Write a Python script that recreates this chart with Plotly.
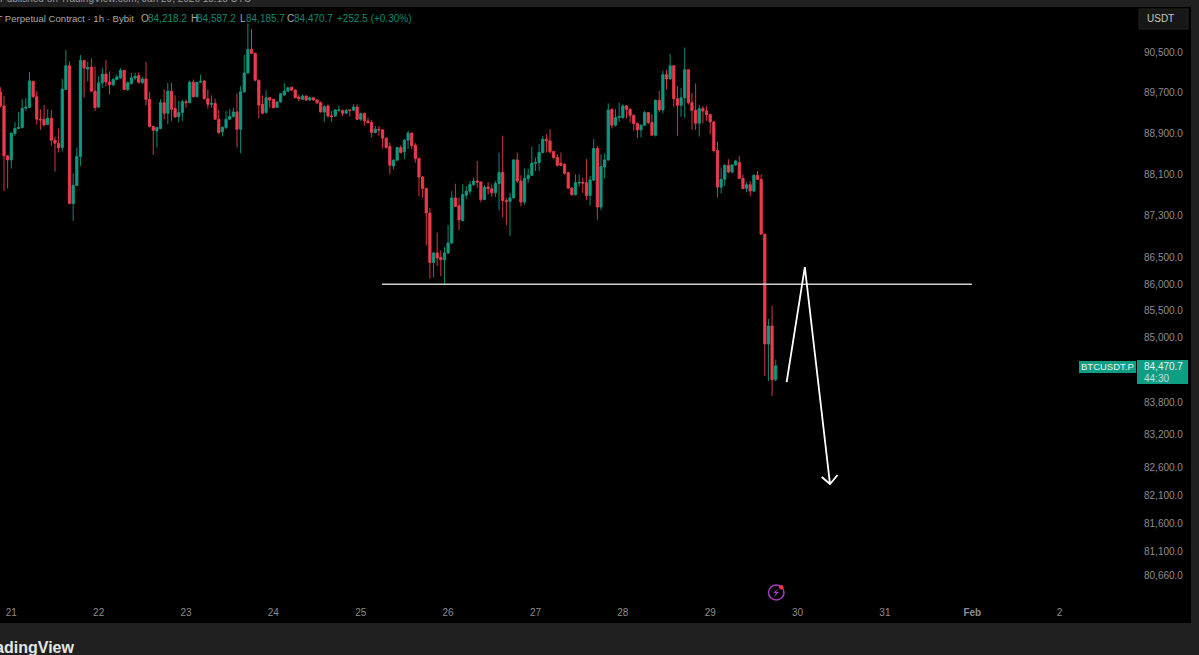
import pandas as pd
import plotly.graph_objects as go

# BTCUSDT.P 1h candles, first bar is Jan 20 21:00
first_bar = "2026-01-20 21:00"

opens = [
    89707, 89434, 88459, 88381, 88894, 88992, 89012, 89388, 89408, 89921,
    89616, 89174, 89174, 89076, 89193, 88764, 88706, 88621, 89759, 90227,
    87536, 87887, 88446, 90331, 90162, 90201, 89726, 89414, 89889, 90064,
    89908, 89850, 89954, 89986, 90136, 89759, 89876, 89986, 90032, 89889,
    89967, 89564, 89031, 88946, 88992, 89499, 89291, 89726, 89382, 89226,
    89304, 89518, 89499, 89902, 89616, 89902, 89928, 89577, 89466, 89486,
    89174, 88927, 89011, 89174, 89226, 89317, 88979, 89713, 90084, 90552,
    90474, 89941, 89466, 89304, 89596, 89564, 89408, 89512, 89655, 89726,
    89804, 89746, 89609, 89564, 89629, 89551, 89596, 89551, 89499, 89317,
    89434, 89239, 89239, 89349, 89349, 89291, 89356, 89349, 89414, 89174,
    89284, 89141, 89109, 88914, 88979, 88966, 88803, 88640, 88264, 88374,
    88621, 88537, 88764, 88901, 88667, 88407, 88049, 87828, 87354, 86411,
    86593, 86509, 86463, 86593, 86782, 87646, 87497, 87211, 87698, 87776,
    87906, 87971, 87952, 87614, 87854, 87822, 87744, 87926, 88134, 87594,
    87581, 87646, 88381, 87971, 87568, 88017, 88082, 88316, 88329, 88524,
    88784, 88751, 88543, 88426, 88316, 88290, 88134, 87835, 87705, 87933,
    87946, 87939, 87692, 87991, 88602, 87471, 88245, 88381, 89369, 89057,
    89206, 89206, 89434, 89369, 89252, 89089, 88966, 89057, 89304, 89109,
    88862, 89544, 89356, 90051, 89967, 90227, 89577, 89447, 89596, 90149,
    89499, 89349, 89096, 89382, 89336, 89265, 89122, 88563, 87854, 88004,
    88277, 88147, 88283, 88329, 88023, 87828, 87900, 87777, 88082, 88004,
    86951, 84877, 85213, 84218.2,
]
highs = [
    89805, 89629, 88472, 88914, 89122, 89317, 89564, 89596, 90103, 89928,
    89726, 89369, 89453, 89369, 89356, 88836, 88992, 89967, 90539, 90311,
    88121, 88621, 90441, 90344, 90311, 90376, 90214, 90019, 90181, 90344,
    90116, 89986, 90051, 90181, 90149, 89921, 90084, 90084, 90097, 90006,
    90298, 89707, 89031, 89031, 89564, 89759, 89889, 89889, 89642, 89531,
    89551, 89564, 89934, 89954, 89902, 90051, 89941, 89759, 89642, 89577,
    89356, 89031, 89336, 89369, 89401, 89681, 89824, 90441, 91072, 90961,
    90487, 89954, 89642, 89746, 89609, 89577, 89518, 89681, 89889, 89811,
    89811, 89759, 89661, 89661, 89642, 89616, 89616, 89564, 89525, 89447,
    89466, 89336, 89369, 89434, 89362, 89382, 89369, 89466, 89466, 89304,
    89304, 89206, 89161, 89044, 89044, 88979, 88816, 88719, 88394, 88621,
    88667, 88784, 88946, 88914, 88706, 88426, 88069, 87841, 87451, 86606,
    86983, 86639, 86704, 87126, 87776, 87919, 87646, 87907, 87874, 87971,
    88036, 88361, 87965, 87887, 87952, 87906, 87971, 88524, 88849, 87646,
    87744, 88394, 88524, 88082, 88212, 88212, 88641, 88426, 88686, 88849,
    88881, 88979, 88556, 88491, 88524, 88316, 88147, 87848, 88101, 88101,
    88036, 88394, 88069, 88784, 88654, 88491, 88505, 89486, 89382, 89369,
    89499, 89466, 89453, 89388, 89265, 89109, 89070, 89336, 89317, 89271,
    89564, 89726, 90136, 90149, 90461, 90240, 89824, 89791, 90591, 90162,
    89694, 89876, 89453, 89434, 89434, 89278, 89135, 88732, 88231, 88290,
    88394, 88296, 88381, 88459, 88101, 87952, 87971, 88101, 88166, 88100,
    86960, 85344, 85589, 84587.2,
]
lows = [
    89402, 87777, 87829, 88212, 88849, 88979, 88992, 89336, 89395, 89596,
    89070, 88966, 89031, 89057, 88654, 88153, 88524, 88543, 89746, 87530,
    87204, 87874, 88264, 89596, 89921, 89707, 89336, 89402, 89791, 89824,
    89661, 89824, 89941, 89967, 89746, 89726, 89856, 89941, 89876, 89876,
    89447, 89011, 88478, 88621, 88979, 89174, 89076, 89141, 89206, 89109,
    89141, 89401, 89486, 89603, 89603, 89889, 89564, 89382, 89401, 89161,
    88881, 88836, 88979, 89154, 89206, 88621, 88511, 89694, 90071, 90467,
    89921, 89187, 89271, 89284, 89401, 89388, 89395, 89499, 89629, 89707,
    89726, 89583, 89525, 89551, 89538, 89538, 89538, 89466, 89304, 89122,
    89206, 89122, 89219, 89317, 89239, 89278, 89226, 89336, 89161, 89141,
    89044, 89089, 88816, 88894, 88849, 88602, 88602, 88101, 88199, 88361,
    88504, 88394, 88589, 88589, 88329, 87679, 87646, 86736, 86106, 86132,
    86346, 86151, 85989, 86574, 86769, 87471, 87029, 87191, 87627, 87711,
    87874, 87841, 87562, 87601, 87711, 87666, 87666, 87406, 87269, 87126,
    86912, 87633, 87939, 87484, 87516, 87939, 88069, 88166, 88166, 88511,
    88524, 88511, 88394, 88251, 88264, 88095, 87822, 87692, 87692, 87861,
    87744, 87601, 87497, 87971, 87224, 87406, 88017, 88361, 88992, 89031,
    89122, 89174, 89187, 89109, 88946, 88803, 88816, 89044, 89076, 88849,
    88836, 89317, 89291, 89759, 89954, 89414, 88849, 89219, 89206, 89466,
    88966, 88966, 88836, 89096, 89141, 88881, 88524, 87659, 87731, 87874,
    88121, 88121, 88264, 88004, 87809, 87757, 87679, 87757, 87991, 86951,
    84282, 84189, 83913, 84185.7,
]
closes = [
    89434, 88459, 88381, 88901, 88992, 89012, 89388, 89408, 89928, 89616,
    89174, 89161, 89063, 89193, 88764, 88706, 88615, 89765, 90227, 87536,
    87887, 88446, 90331, 90181, 90194, 89726, 89402, 89889, 90064, 89908,
    89850, 89954, 90006, 90136, 89759, 89889, 89986, 90019, 89902, 89967,
    89564, 89031, 88959, 89011, 89499, 89291, 89726, 89369, 89219, 89304,
    89518, 89499, 89902, 89616, 89902, 89921, 89577, 89466, 89486, 89174,
    88914, 89018, 89174, 89226, 89317, 88979, 89713, 90084, 90552, 90474,
    89941, 89453, 89291, 89596, 89551, 89401, 89512, 89674, 89726, 89791,
    89746, 89596, 89577, 89629, 89551, 89596, 89551, 89499, 89317, 89421,
    89239, 89226, 89356, 89356, 89291, 89349, 89343, 89414, 89174, 89284,
    89141, 89109, 88914, 88979, 88966, 88803, 88621, 88277, 88374, 88621,
    88524, 88764, 88901, 88654, 88407, 88049, 87828, 87354, 86411, 86593,
    86496, 86463, 86593, 86782, 87646, 87484, 87224, 87711, 87776, 87906,
    87971, 87952, 87614, 87854, 87822, 87744, 87926, 88134, 87594, 87575,
    87646, 88381, 87971, 87568, 88023, 88082, 88316, 88329, 88524, 88784,
    88751, 88537, 88426, 88277, 88277, 88121, 87835, 87705, 87939, 87946,
    87933, 87692, 87991, 88602, 87471, 88251, 88381, 89356, 89057, 89206,
    89226, 89434, 89369, 89252, 89089, 88966, 89057, 89304, 89109, 88862,
    89544, 89356, 90051, 89967, 90227, 89577, 89447, 89596, 90149, 89499,
    89349, 89096, 89382, 89336, 89265, 89122, 88563, 87854, 88004, 88277,
    88147, 88283, 88361, 88023, 87828, 87900, 87777, 88082, 88004, 86951,
    84877, 85213, 84218.2, 84470.7,
]

# hand drawn level and arrow
level_x = ["2026-01-25 05:50", "2026-01-31 23:54"]
level_y = [86000, 86000]
arrow_x = ["2026-01-29 21:00", "2026-01-30 02:00", "2026-01-30 08:55",
           "2026-01-30 06:38", "2026-01-30 08:55", "2026-01-30 11:00"]
arrow_y = [84171, 86325, 82306, 82433, 82306, 82469]

# axis labels
price_ticks = [90500, 89700, 88900, 88100, 87300, 86500, 86000, 85500, 85000,
               83800, 83200, 82600, 82100, 81600, 81100, 80660]
price_labels = ["90,500.0", "89,700.0", "88,900.0", "88,100.0", "87,300.0",
                "86,500.0", "86,000.0", "85,500.0", "85,000.0", "83,800.0",
                "83,200.0", "82,600.0", "82,100.0", "81,600.0", "81,100.0",
                "80,660.0"]
day_ticks = ["2026-01-21", "2026-01-22", "2026-01-23", "2026-01-24",
             "2026-01-25", "2026-01-26", "2026-01-27", "2026-01-28",
             "2026-01-29", "2026-01-30", "2026-01-31", "2026-02-01",
             "2026-02-02"]
day_labels = ["21", "22", "23", "24", "25", "26", "27", "28", "29", "30", "31",
              "<b>Feb</b>", "2"]

W, H = 1199, 655
FONT = "Liberation Sans"
GREEN = "#0f9a80"
RED = "#ee3b4c"
HEAD_GREEN = "#0b8a72"


def px(x):
    return x / W


def py(y):
    return 1 - y / H


def paper_rect(x0, y0, x1, y1, fill, line=None, layer="above"):
    return dict(type="rect", xref="paper", yref="paper", x0=px(x0), x1=px(x1),
                y0=py(y0), y1=py(y1), fillcolor=fill, layer=layer,
                line=dict(width=1 if line else 0, color=line or fill))


def label(x, y, text, color, size=10, anchor="left", **kw):
    return dict(xref="paper", yref="paper", x=px(x), y=py(y), text=text,
                showarrow=False, xanchor=anchor, yanchor="middle",
                font=dict(family=FONT, size=size, color=color),
                borderpad=0, **kw)


times = pd.date_range(first_bar, periods=len(opens), freq="h")

fig = go.Figure()
fig.add_trace(go.Candlestick(
    x=times, open=opens, high=highs, low=lows, close=closes,
    increasing=dict(line=dict(color=GREEN, width=0.9), fillcolor=GREEN),
    decreasing=dict(line=dict(color=RED, width=0.9), fillcolor=RED),
    whiskerwidth=0,
    showlegend=False,
))
fig.add_trace(go.Scatter(x=level_x, y=level_y, mode="lines",
                         line=dict(color="#cfcfcf", width=1.4),
                         showlegend=False))
fig.add_trace(go.Scatter(x=arrow_x, y=arrow_y, mode="lines",
                         line=dict(color="#ffffff", width=1.8),
                         showlegend=False))

shapes = [
    # black chart panel on the grey app frame
    paper_rect(0, 7, 1191, 623, "#000000", layer="below"),
    paper_rect(1139, 9, 1188, 29, "#171717", line="#222222"),
    paper_rect(1079, 361, 1136, 373, "#0f9d84"),
    paper_rect(1137, 360, 1188, 384, "#0f9d84"),
    # lightning badge
    dict(type="circle", xref="paper", yref="paper", x0=px(768.5), x1=px(784),
         y0=py(600), y1=py(585), line=dict(color="#a03cc0", width=1.5)),
    dict(type="path", xref="paper", yref="paper",
         path=f"M {px(778)},{py(588.5)} L {px(773)},{py(593)} L {px(776)},{py(593)} "
              f"L {px(774)},{py(597)} L {px(779)},{py(592)} L {px(776)},{py(592)} Z",
         fillcolor="#a03cc0", line=dict(width=0)),
    dict(type="circle", xref="paper", yref="paper", x0=px(779), x1=px(783.5),
         y0=py(589.5), y1=py(585), fillcolor="#f23645", line=dict(width=0)),
]

annotations = [
    label(-1, -2, "Published on TradingView.com, Jan 29, 2026 18:15 UTC", "#9a9a9a"),
    label(135, 18, "BTCUSDT Perpetual Contract · 1h · Bybit", "#a8a8a8", size=9.6, anchor="right"),
    label(140, 18, "O", "#a8a8a8"),
    label(147, 18, "84,218.2", HEAD_GREEN),
    label(190, 18, "H", "#a8a8a8"),
    label(196, 18, "84,587.2", HEAD_GREEN),
    label(239, 18, "L", "#a8a8a8"),
    label(245, 18, "84,185.7", HEAD_GREEN),
    label(286, 18, "C", "#a8a8a8"),
    label(293, 18, "84,470.7", HEAD_GREEN),
    label(336, 18, "+252.5 (+0.30%)", HEAD_GREEN),
    label(1146, 19, "USDT", "#c8c8c8"),
    label(1107.5, 367, "BTCUSDT.P", "#e8f5f2", size=9.5, anchor="center"),
    label(1143, 367, "84,470.7", "#e8f5f2"),
    label(1143, 378, "44:30", "#bfe3da"),
    label(76, 647, "<b>TradingView</b>", "#e6e6e6", size=16, anchor="right"),
]

fig.update_layout(
    width=W, height=H,
    margin=dict(l=0, r=0, t=0, b=0),
    paper_bgcolor="#202020",
    plot_bgcolor="#000000",
    showlegend=False,
    boxgap=0.12,
    font=dict(family=FONT, color="#8c8c8c", size=10),
    xaxis=dict(
        domain=[0, 1143 / W],
        type="date",
        range=["2026-01-20 20:54", "2026-02-02 22:54"],
        rangeslider=dict(visible=False),
        tickmode="array", tickvals=day_ticks, ticktext=day_labels,
        showgrid=False, zeroline=False, showline=False, ticks="",
        tickangle=0,
    ),
    yaxis=dict(
        domain=[py(605), py(8)],
        type="log",
        side="right",
        range=[4.90389, 4.96085],
        tickmode="array", tickvals=price_ticks, ticktext=price_labels,
        showgrid=False, zeroline=False, showline=False, ticks="",
    ),
    shapes=shapes,
    annotations=annotations,
)

# no modebar, and body margin off so the page lines up with the 1199x655 window
fig.write_html("out.html", config={"displayModeBar": False},
               post_script="document.body.style.margin='0';")
